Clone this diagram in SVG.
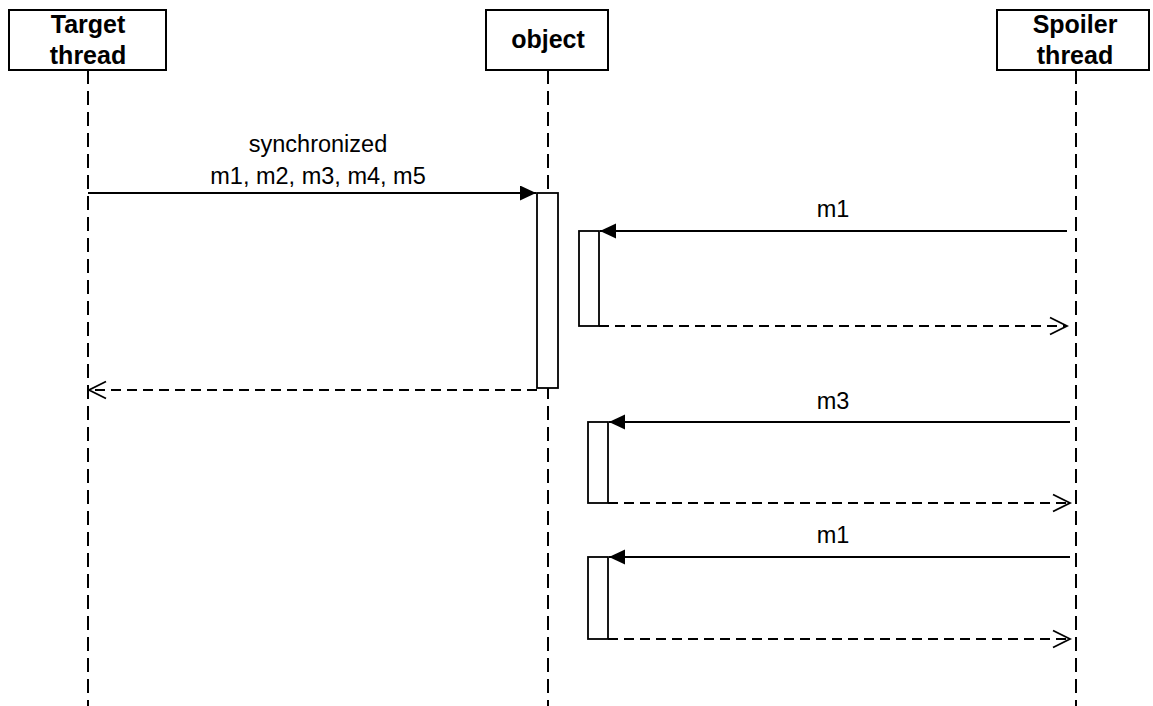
<svg xmlns="http://www.w3.org/2000/svg" width="1153" height="706" viewBox="0 0 1153 706">
<style>
.box{fill:#fff;stroke:#000;stroke-width:2}
.act{fill:#fff;stroke:#000;stroke-width:1.8}
.life{stroke:#000;stroke-width:2;stroke-dasharray:14 7;fill:none}
.msg{stroke:#000;stroke-width:1.8;fill:none}
.ret{stroke:#000;stroke-width:1.8;fill:none;stroke-dasharray:10 6}
.hd{font-family:"Liberation Sans",Arial,sans-serif;font-weight:bold;font-size:25px;text-anchor:middle}
.lb{font-family:"Liberation Sans",Arial,sans-serif;font-size:23.5px;text-anchor:middle}
</style>
<defs>
<marker id="filled" markerUnits="userSpaceOnUse" markerWidth="18" markerHeight="16" refX="16" refY="7.5" orient="auto"><path d="M0,0 L16,7.5 L0,15 z" fill="#000"/></marker>
<marker id="open" markerUnits="userSpaceOnUse" markerWidth="20" markerHeight="20" refX="18" refY="10" orient="auto"><path d="M1,1.5 L18,10 L1,18.5" fill="none" stroke="#000" stroke-width="1.8"/></marker>
</defs>
<rect width="1153" height="706" fill="#fff"/>
<g id="lifelines">
<line class="life" x1="88" y1="70" x2="88" y2="706"/>
<line class="life" x1="548" y1="70" x2="548" y2="706"/>
<line class="life" x1="1076" y1="70" x2="1076" y2="706"/>
</g>
<g id="target">
<rect class="box" x="9" y="10" width="157" height="60"/>
<text class="hd" x="88" y="33">Target</text>
<text class="hd" x="88" y="64">thread</text>
</g>
<g id="object">
<rect class="box" x="486" y="10" width="122" height="60"/>
<text class="hd" x="548" y="48">object</text>
</g>
<g id="spoiler">
<rect class="box" x="997" y="10" width="152" height="60"/>
<text class="hd" x="1075" y="33">Spoiler</text>
<text class="hd" x="1075" y="64">thread</text>
</g>
<g id="activations">
<rect class="act" x="537" y="193" width="21" height="195"/>
<rect class="act" x="579" y="231" width="20" height="95"/>
<rect class="act" x="588" y="422" width="20" height="81"/>
<rect class="act" x="588" y="557" width="20" height="82"/>
</g>
<g id="connectors">
<line class="msg" x1="88" y1="193" x2="536" y2="193" marker-end="url(#filled)"/>
<line class="msg" x1="1067" y1="231" x2="600" y2="231" marker-end="url(#filled)"/>
<line class="ret" x1="599" y1="326" x2="1067" y2="326" marker-end="url(#open)"/>
<line class="ret" x1="537" y1="390" x2="89" y2="390" marker-end="url(#open)"/>
<line class="msg" x1="1070" y1="422" x2="609" y2="422" marker-end="url(#filled)"/>
<line class="ret" x1="608" y1="503" x2="1070" y2="503" marker-end="url(#open)"/>
<line class="msg" x1="1070" y1="557" x2="609" y2="557" marker-end="url(#filled)"/>
<line class="ret" x1="608" y1="639" x2="1070" y2="639" marker-end="url(#open)"/>
</g>
<g id="labels">
<text class="lb" x="318" y="152">synchronized</text>
<text class="lb" x="318" y="184">m1, m2, m3, m4, m5</text>
<text class="lb" x="833" y="217">m1</text>
<text class="lb" x="833" y="409">m3</text>
<text class="lb" x="833" y="543">m1</text>
</g>
</svg>
